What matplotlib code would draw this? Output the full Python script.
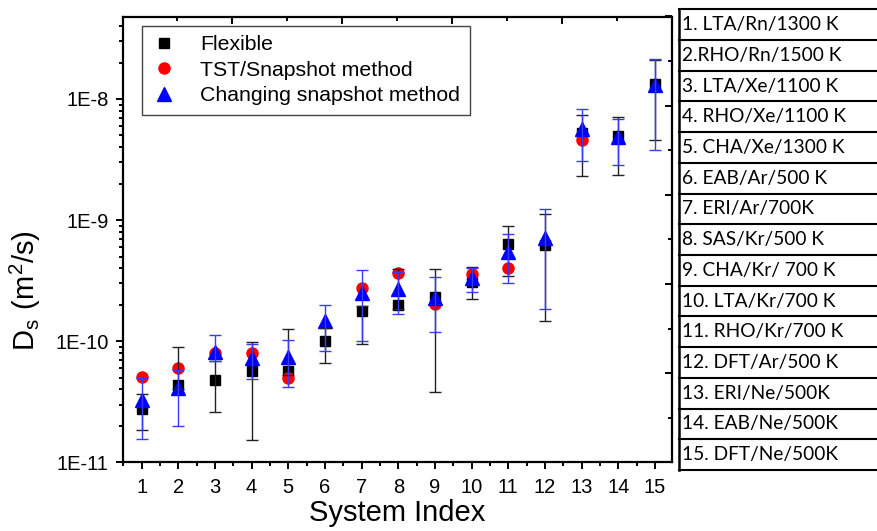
import numpy as np
import matplotlib
matplotlib.use("Agg")
import matplotlib.pyplot as plt
from matplotlib.ticker import FixedLocator, FuncFormatter, NullFormatter, MultipleLocator

plt.rcParams["font.family"] = ["Liberation Sans", "DejaVu Sans"]

# system index
idx = np.arange(1, 16)

# Flexible (black squares) with error bar ends
flex = [2.76e-11, 4.35e-11, 4.79e-11, 5.71e-11, 5.71e-11, 1.0e-10, 1.79e-10, 2.0e-10,
        2.3e-10, 3.07e-10, 6.34e-10, 6.25e-10, 5.24e-9, 4.97e-9, 1.33e-8]
flex_lo = [1.85e-11, 4.0e-11, 2.6e-11, 1.53e-11, 5.3e-11, 6.65e-11, 9.55e-11, 1.85e-10,
           3.79e-11, 2.22e-10, 3.46e-10, 1.48e-10, 2.32e-9, 2.37e-9, 4.61e-9]
flex_hi = [3.65e-11, 8.9e-11, 6.9e-11, 9.9e-11, 1.26e-10, 1.29e-10, 1.95e-10, 3.94e-10,
           3.96e-10, 4.09e-10, 8.97e-10, 1.13e-9, 7.42e-9, 7.1e-9, 2.1e-8]

# TST/Snapshot method (red circles), no error bars
snap = [5.04e-11, 5.98e-11, 7.96e-11, 8.05e-11, 4.95e-11, np.nan, 2.77e-10, 3.65e-10,
        2.03e-10, 3.6e-10, 4.01e-10, np.nan, 4.61e-9, np.nan, np.nan]

# Changing snapshot method (blue triangles) with error bar ends
chg = [3.27e-11, 4.09e-11, 8.2e-11, 7.24e-11, 7.46e-11, 1.48e-10, 2.49e-10, 2.69e-10,
       2.29e-10, 3.32e-10, 5.5e-10, 7.1e-10, 5.68e-9, 4.85e-9, 1.31e-8]
chg_lo = [1.55e-11, 2.0e-11, 6.9e-11, 4.85e-11, 4.17e-11, 8.36e-11, 1.01e-10, 1.67e-10,
          1.2e-10, 2.57e-10, 3.01e-10, 1.84e-10, 3.05e-9, 2.87e-9, 3.81e-9]
chg_hi = [5.0e-11, 5.8e-11, 1.13e-10, 9.5e-11, 1.03e-10, 2.0e-10, 3.88e-10, 3.7e-10,
          3.36e-10, 4.0e-10, 7.7e-10, 1.24e-9, 8.3e-9, 6.87e-9, 2.15e-8]

y_ticks = [1e-11, 1e-10, 1e-9, 1e-8]

systems = ["1. LTA/Rn/1300 K", "2.RHO/Rn/1500 K", "3. LTA/Xe/1100 K", "4. RHO/Xe/1100 K",
           "5. CHA/Xe/1300 K", "6. EAB/Ar/500 K", "7. ERI/Ar/700K", "8. SAS/Kr/500 K",
           "9. CHA/Kr/ 700 K", "10. LTA/Kr/700 K", "11. RHO/Kr/700 K", "12. DFT/Ar/500 K",
           "13. ERI/Ne/500K", "14. EAB/Ne/500K", "15. DFT/Ne/500K"]

W, H = 877, 531
fig = plt.figure(figsize=(W / 100, H / 100), dpi=100)
ax = fig.add_axes([122.5 / W, (H - 462.3) / H, 549 / W, 445.8 / H])

flex = np.array(flex)
chg = np.array(chg)

ax.plot(idx, flex, "s", color="black", markersize=7.5, zorder=3, label="Flexible")
ax.plot(idx, snap, "o", color="#ff0000", markersize=8, zorder=3, label="TST/Snapshot method")
ax.plot(idx, chg, "^", color="#0000ff", markersize=9.5, zorder=3, label="Changing snapshot method")

ax.errorbar(idx, flex, yerr=[flex - np.array(flex_lo), np.array(flex_hi) - flex], fmt="none",
            ecolor="#222222", elinewidth=1, capsize=4.5, capthick=1, zorder=4)
ax.errorbar(idx, chg, yerr=[chg - np.array(chg_lo), np.array(chg_hi) - chg], fmt="none",
            ecolor="#3a3aff", elinewidth=1, capsize=4.5, capthick=1, zorder=4)

ax.set_yscale("log")
ax.set_ylim(1e-11, 4.8e-8)
ax.set_xlim(0.48, 15.45)
ax.xaxis.set_major_locator(FixedLocator(idx))
ax.xaxis.set_minor_locator(MultipleLocator(0.5))
minors = [m * t for t in y_ticks for m in range(2, 10) if m * t < 4.8e-8]
ax.yaxis.set_major_locator(FixedLocator(y_ticks))
ax.yaxis.set_minor_locator(FixedLocator(minors))
ax.yaxis.set_major_formatter(FuncFormatter(lambda v, p: "1E%d" % round(np.log10(v))))
ax.yaxis.set_minor_formatter(NullFormatter())

for s in ax.spines.values():
    s.set_linewidth(1.6)
ax.tick_params(which="both", direction="out", width=1.4, top=False, right=False,
               labelsize=14.5)
ax.tick_params(which="major", length=5)
ax.tick_params(which="minor", length=3)
ax.tick_params(axis="y", pad=5)
ax.tick_params(axis="x", pad=6)

ax.set_xlabel("System Index", fontsize=21)
ax.xaxis.set_label_coords(0.5, -0.083)
ax.set_ylabel(r"$\mathregular{D_s\ (m^2/s)}$", fontsize=21)
ax.yaxis.set_label_coords(-0.145, 0.385)

ax.legend(loc="upper left", bbox_to_anchor=(0.035, 0.979), borderaxespad=0,
          fontsize=15.3, frameon=True, fancybox=False, edgecolor="#444444",
          handlelength=1.2, handletextpad=1.1, labelspacing=0.3, borderpad=0.45,
          numpoints=1, framealpha=1).get_frame().set_linewidth(1)

# top and right axes: linear ticks, no labels
ov = fig.add_axes(ax.get_position(), frameon=False)
ov.set_xlim(0, 1)
ov.set_ylim(0, 1)
ov.xaxis.tick_top()
ov.yaxis.tick_right()
ov.xaxis.set_major_locator(MultipleLocator(0.2))
ov.xaxis.set_minor_locator(MultipleLocator(0.1))
ov.yaxis.set_major_locator(MultipleLocator(0.2))
ov.yaxis.set_minor_locator(MultipleLocator(0.1))
ov.tick_params(which="both", direction="in", width=1.4, labeltop=False, labelright=False,
               labelbottom=False, labelleft=False)
ov.tick_params(which="major", length=5)
ov.tick_params(which="minor", length=3)
ov.patch.set_visible(False)

# table of systems at the right
tb = fig.add_axes([679.3 / W, (H - 470) / H, 220 / W, 460.7 / H])
tb.set_xlim(0, 1)
tb.set_ylim(len(systems), 0)
tb.axis("off")
for i in range(len(systems) + 1):
    tb.axhline(i, color="black", linewidth=1.5, clip_on=False)
tb.axvline(0, color="black", linewidth=1.8, clip_on=False)
for i, name in enumerate(systems):
    tb.text(0.012, i + 0.5, name, va="center", ha="left", fontsize=13.8,
            family=["Lato", "DejaVu Sans"])

fig.savefig("out.png", dpi=100)
